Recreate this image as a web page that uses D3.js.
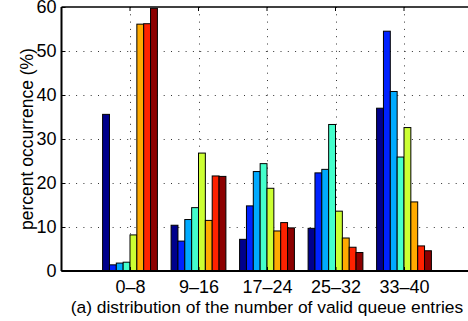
<!DOCTYPE html>
<html>
<head>
<meta charset="utf-8">
<script src="https://cdn.jsdelivr.net/npm/d3@7"></script>
<style>
  body { margin: 0; background: #fff; }
  svg { display: block; }
  text { font-family: "Liberation Sans", Helvetica, Arial, sans-serif; fill: #000; }
</style>
</head>
<body>
<svg id="chart" width="468" height="321"></svg>
<script>
// groups along x (number of valid queue entries)
var categories = ["0\u20138", "9\u201316", "17\u201324", "25\u201332", "33\u201340"];

// 8 series per group (percent occurrence)
var s1 = [35.6, 10.4, 7.2, 9.7, 37.0];
var s2 = [1.4, 6.8, 14.8, 22.3, 54.5];
var s3 = [1.8, 11.7, 22.6, 23.1, 40.8];
var s4 = [2.0, 14.4, 24.4, 33.3, 25.9];
var s5 = [8.2, 26.8, 18.8, 13.6, 32.6];
var s6 = [56.1, 11.5, 9.1, 7.5, 15.7];
var s7 = [56.2, 21.6, 11.0, 5.4, 5.7];
var s8 = [59.7, 21.5, 9.8, 4.2, 4.6];
var series = [s1, s2, s3, s4, s5, s6, s7, s8];

var yTicks = [0, 10, 20, 30, 40, 50, 60];
var colors = ["#00008c", "#0022ff", "#00aaff", "#44ffcc", "#ccff33", "#ffaa00", "#ff2200", "#8c0000"];

var svg = d3.select("#chart");
var pLeft = 61.5, pRight = 472.5, pTop = 7, pBottom = 271;

var x = d3.scaleLinear().domain([0, categories.length + 1]).range([pLeft, pRight]);
var step = x(1) - x(0);
var inner = d3.scaleBand().domain(d3.range(series.length)).range([-0.4 * step, 0.4 * step]);
var y = d3.scaleLinear().domain([0, 60]).range([pBottom, pTop]);

// dotted grid
var grid = svg.append("g").attr("stroke", "#333").attr("stroke-width", 1).attr("stroke-dasharray", "1,6.3");
grid.selectAll("line.h").data(yTicks.slice(1, -1)).enter().append("line")
    .attr("x1", pLeft).attr("x2", pRight)
    .attr("y1", function(d) { return Math.round(y(d)) + 0.5; })
    .attr("y2", function(d) { return Math.round(y(d)) + 0.5; });
grid.selectAll("line.v").data(categories).enter().append("line")
    .attr("x1", function(d, i) { return Math.round(x(i + 1)) + 0.5; })
    .attr("x2", function(d, i) { return Math.round(x(i + 1)) + 0.5; })
    .attr("y1", pTop).attr("y2", pBottom);

// bars
series.forEach(function(vals, j) {
    svg.append("g").selectAll("rect").data(vals).enter().append("rect")
        .attr("x", function(d, i) { return x(i + 1) + inner(j); })
        .attr("width", inner.bandwidth())
        .attr("y", function(d) { return y(d); })
        .attr("height", function(d) { return pBottom - y(d); })
        .attr("fill", colors[j])
        .attr("stroke", "#000")
        .attr("stroke-width", 1);
});

// axes
var yAxis = d3.axisLeft(y).tickValues(yTicks).tickSize(-4).tickPadding(5);
var gy = svg.append("g").attr("transform", "translate(" + pLeft + ",0)").call(yAxis);
gy.select(".domain").remove();
gy.selectAll("text").style("font-size", "18px");

var xAxis = d3.axisBottom(x).tickValues(d3.range(1, categories.length + 1))
    .tickFormat(function(d) { return categories[d - 1]; }).tickSize(-4).tickPadding(9);
var gx = svg.append("g").attr("transform", "translate(0," + pBottom + ")").call(xAxis);
gx.select(".domain").remove();
gx.selectAll("text").style("font-size", "18px");

// top ticks
svg.append("g").selectAll("line").data(d3.range(1, categories.length + 1)).enter().append("line")
    .attr("x1", function(d) { return x(d); }).attr("x2", function(d) { return x(d); })
    .attr("y1", pTop).attr("y2", pTop + 4).attr("stroke", "#000");

// box
svg.append("line").attr("x1", pLeft).attr("x2", pRight).attr("y1", pTop).attr("y2", pTop)
    .attr("stroke", "#000").attr("stroke-width", 1.5);
svg.append("line").attr("x1", pLeft).attr("x2", pRight).attr("y1", pBottom).attr("y2", pBottom)
    .attr("stroke", "#000").attr("stroke-width", 2);
svg.append("line").attr("x1", pLeft).attr("x2", pLeft).attr("y1", pTop).attr("y2", pBottom)
    .attr("stroke", "#000").attr("stroke-width", 2);

// labels
svg.append("text")
    .attr("transform", "translate(33," + (pTop + pBottom) / 2 + ") rotate(-90)")
    .attr("text-anchor", "middle")
    .style("font-size", "17.5px")
    .text("percent occurrence (%)");

svg.append("text")
    .attr("x", 267).attr("y", 313)
    .attr("text-anchor", "middle")
    .style("font-size", "17.4px")
    .text("(a) distribution of the number of valid queue entries");
</script>
</body>
</html>
